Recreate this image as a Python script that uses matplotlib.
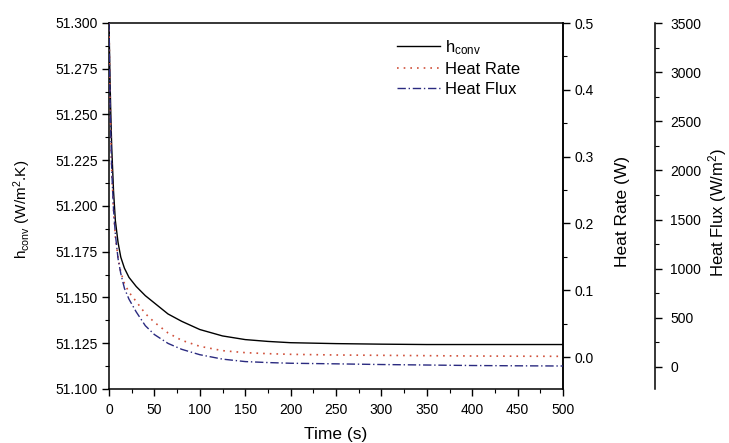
import matplotlib
matplotlib.use("Agg")
import matplotlib.pyplot as plt
from matplotlib.ticker import MultipleLocator, FormatStrFormatter

plt.rcParams['font.family'] = ['Liberation Sans', 'DejaVu Sans']
plt.rcParams['mathtext.fontset'] = 'custom'
plt.rcParams['mathtext.rm'] = 'Liberation Sans'
plt.rcParams['mathtext.it'] = 'Liberation Sans'

time_s = [0, 1, 2, 3, 5, 7, 10, 13, 17, 22, 30, 40, 50, 65, 80, 100, 125, 150,
          175, 200, 250, 300, 350, 400, 450, 500]
h_conv = [51.300, 51.272, 51.250, 51.232, 51.208, 51.192, 51.180, 51.172, 51.166,
          51.161, 51.156, 51.151, 51.147, 51.141, 51.137, 51.1325, 51.129, 51.127,
          51.126, 51.1253, 51.1248, 51.1245, 51.1243, 51.1243, 51.1243, 51.1243]
heat_rate = [0.50, 0.40, 0.33, 0.28, 0.22, 0.18, 0.148, 0.127, 0.110, 0.097, 0.083,
             0.065, 0.052, 0.036, 0.025, 0.016, 0.0095, 0.0065, 0.005, 0.004, 0.003,
             0.0025, 0.002, 0.0015, 0.0012, 0.001]
heat_flux = [3500, 2800, 2350, 2000, 1600, 1350, 1100, 950, 800, 690, 560, 420, 330,
             240, 180, 125, 80, 55, 45, 38, 32, 25, 20, 15, 12, 10]

W, H = 729, 443
fig = plt.figure(figsize=(W/100, H/100), dpi=100)
x0, x1, y0, y1 = 109, 563, 23, 389
ax = fig.add_axes([x0/W, 1-y1/H, (x1-x0)/W, (y1-y0)/H])
ax2 = ax.twinx()
ax3 = ax.twinx()
ax3.spines['right'].set_position(('axes', (655-x0)/(x1-x0)))
for a in (ax2, ax3):
    a.spines['left'].set_visible(False)
    a.spines['top'].set_visible(False)
    a.spines['bottom'].set_visible(False)

l1, = ax.plot(time_s, h_conv, color='black', lw=1.0, label=r'h$_{\mathregular{conv}}$')
l2, = ax2.plot(time_s, heat_rate, color='#d0503a', lw=1.2, ls=(0, (1, 3)), label='Heat Rate')
l3, = ax3.plot(time_s, heat_flux, color='#2a2a80', lw=1.0, ls=(0, (6, 2, 1, 2)), label='Heat Flux')

ax.set_xlim(0, 500)
ax.set_ylim(51.100, 51.300)
ax2.set_ylim(-0.0479, 0.5)
ax3.set_ylim(-224, 3500)

ax.xaxis.set_major_locator(MultipleLocator(50))
ax.xaxis.set_minor_locator(MultipleLocator(25))
ax.yaxis.set_major_locator(MultipleLocator(0.025))
ax.yaxis.set_minor_locator(MultipleLocator(0.0125))
ax.yaxis.set_major_formatter(FormatStrFormatter('%.3f'))
ax2.yaxis.set_major_locator(MultipleLocator(0.1))
ax2.yaxis.set_minor_locator(MultipleLocator(0.05))
ax2.yaxis.set_major_formatter(FormatStrFormatter('%.1f'))
ax3.yaxis.set_major_locator(MultipleLocator(500))
ax3.yaxis.set_minor_locator(MultipleLocator(250))

for a in (ax, ax2, ax3):
    a.tick_params(which='major', direction='out', length=5, width=1, labelsize=10, pad=3)
    a.tick_params(which='minor', direction='out', length=3, width=0.8)
ax.tick_params(axis='x', which='major', pad=5)
ax3.tick_params(axis='y', which='major', pad=6)
for sp in ax.spines.values():
    sp.set_linewidth(1.1)
ax2.spines['right'].set_linewidth(1.1)
ax3.spines['right'].set_linewidth(1.1)

ax.set_xlabel('Time (s)', fontsize=12.5)
ax.set_ylabel(r'h$_{\mathregular{conv}}$ (W/m$^{\mathregular{2}}$.K)', fontsize=11)
ax2.set_ylabel('Heat Rate (W)', fontsize=12.5)
ax3.set_ylabel(r'Heat Flux (W/m$^{\mathregular{2}}$)', fontsize=12)

def ax_frac_x(px):
    return (px - x0) / (x1 - x0)
def ax_frac_y(py):
    return (y1 - py) / (y1 - y0)

ax.xaxis.set_label_coords(ax_frac_x(336), ax_frac_y(435))
ax.yaxis.set_label_coords(ax_frac_x(22), ax_frac_y(209))
ax2.yaxis.set_label_coords(ax_frac_x(623), ax_frac_y(211))
ax3.yaxis.set_label_coords(ax_frac_x(718), ax_frac_y(212))
for lab in (ax.xaxis.label, ax.yaxis.label, ax2.yaxis.label, ax3.yaxis.label):
    lab.set_va('center')

leg = ax.legend(handles=[l1, l2, l3], loc='upper left', bbox_to_anchor=(ax_frac_x(397), ax_frac_y(38)),
                frameon=False, fontsize=12, handlelength=2.6, handletextpad=0.3,
                labelspacing=0.3, borderaxespad=0, borderpad=0)

fig.savefig('out.png', dpi=100)
